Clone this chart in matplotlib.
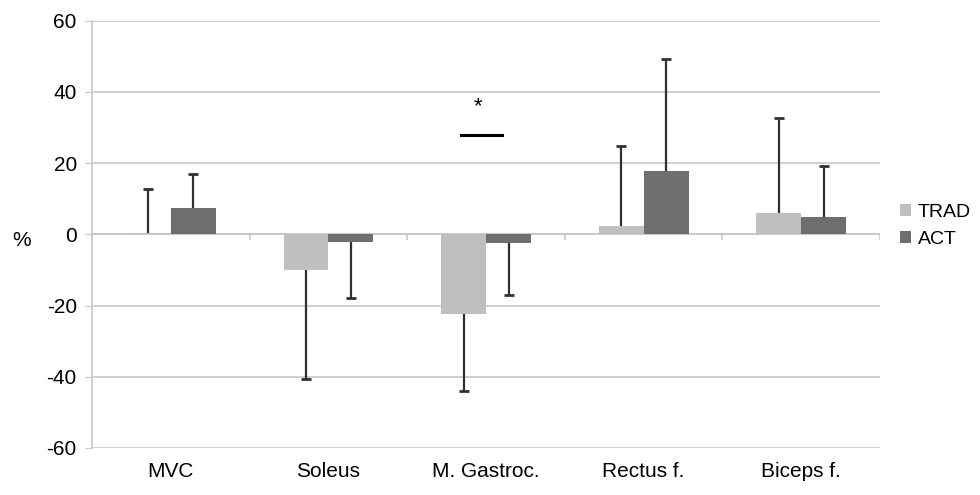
import numpy as np
import matplotlib
matplotlib.use("Agg")
from matplotlib import pyplot as plt

plt.rcParams['font.family'] = ['Liberation Sans', 'DejaVu Sans']
plt.rcParams['axes.unicode_minus'] = False

#Data
categories = ["MVC", "Soleus", "M. Gastroc.", "Rectus f.", "Biceps f."]
trad = [0.5, -10.0, -22.5, 2.3, 6.0]
act = [7.4, -2.0, -2.5, 17.8, 5.0]
trad_err = [12.3, 30.6, 21.5, 22.6, 26.7]
act_err = [9.6, 16.0, 14.5, 31.5, 14.2]
yticks = [-60, -40, -20, 0, 20, 40, 60]
sig_y = 28  # level of the significance bar for M. Gastroc.

col_trad = "#bfbfbf"
col_act = "#6e6e6e"
col_grid = "#c8c8c8"
col_err = "#303030"
fs = 15

fig = plt.figure(figsize=(9.8, 4.95), dpi=100)
ax = fig.add_axes([0.094, 0.095, 0.804, 0.863])

x = np.arange(len(categories))
w = 0.285

ax.bar(x - w / 2, trad, w, color=col_trad, label="TRAD", zorder=3)
ax.bar(x + w / 2, act, w, color=col_act, label="ACT", zorder=3)

#One sided error bars, cap only at the far end
def draw_err(xs, vals, errs):
    ends = [v + e if v >= 0 else v - e for v, e in zip(vals, errs)]
    ax.vlines(xs, vals, ends, color=col_err, linewidth=1.6, zorder=4)
    ax.plot(xs, ends, linestyle="none", marker="_", markersize=7, markeredgewidth=2,
            color=col_err, zorder=4)

draw_err(x - w / 2, trad, trad_err)
draw_err(x + w / 2, act, act_err)

#Grid and axes in Excel style
ax.set_ylim(-60, 60)
ax.set_xlim(-0.5, len(categories) - 0.5)
ax.set_yticks(yticks)
ax.yaxis.grid(True, color=col_grid, linewidth=1.2, zorder=0)
ax.axhline(0, color=col_grid, linewidth=1.2, zorder=2)
for s in ["top", "right", "bottom"]:
    ax.spines[s].set_visible(False)
ax.spines["left"].set_color(col_grid)
ax.spines["left"].set_linewidth(1.2)
ax.tick_params(axis="y", length=5, color=col_grid, labelsize=fs, pad=6)
ax.set_xticks(x)
ax.set_xticklabels(categories)
ax.tick_params(axis="x", length=0, labelsize=fs, pad=10)
# small category separator ticks below the zero line
ax.vlines(np.arange(len(categories) + 1) - 0.5, -1.6, 0, color=col_grid, linewidth=1.2, zorder=2)

fig.text(0.022, 0.515, "%", fontsize=fs, ha="center", va="center")

#Significance mark
g = categories.index("M. Gastroc.")
ax.plot([g - 0.16, g + 0.1], [sig_y, sig_y], color="black", linewidth=2.2, zorder=5)
ax.text(g - 0.05, sig_y + 5, "*", ha="center", va="bottom", fontsize=16)

ax.legend(loc="center left", bbox_to_anchor=(1.01, 0.52), frameon=False, fontsize=14,
          handlelength=0.6, handleheight=0.6, handletextpad=0.35, labelspacing=0.5,
          borderaxespad=0.2)

fig.savefig("out.png", dpi=100)
